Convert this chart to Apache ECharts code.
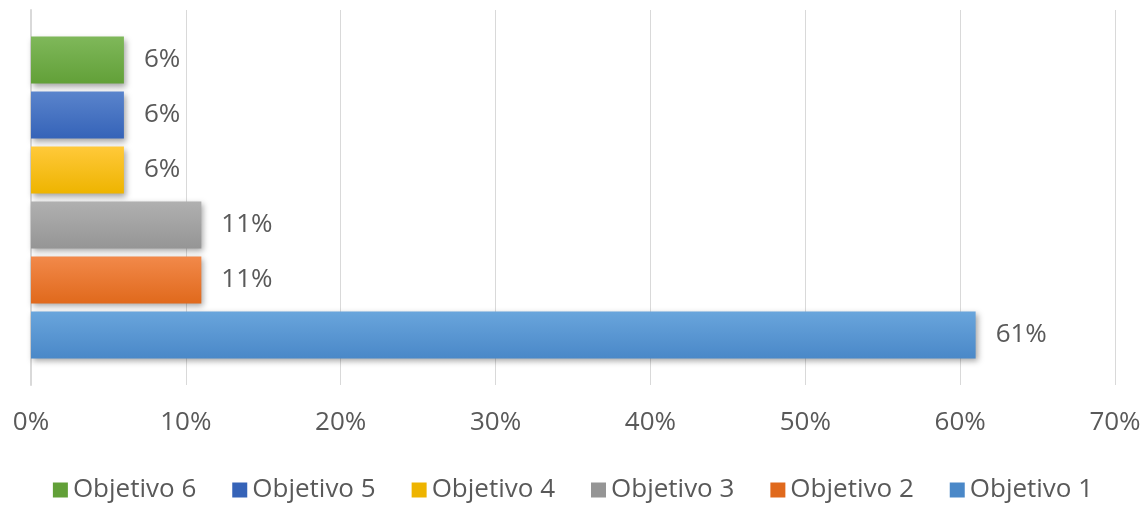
<!DOCTYPE html>
<html>
<head>
<meta charset="utf-8">
<script src="https://cdn.jsdelivr.net/npm/echarts@6/dist/echarts.min.js"></script>
<style>
  html, body { margin: 0; padding: 0; background: #fff; }
  #chart { width: 1146px; height: 506px; }
</style>
</head>
<body>
<div id="chart"></div>
<script>
// listed top bar first (ECharts puts the first series at the top of a horizontal band)
const seriesNames = ['Objetivo 6', 'Objetivo 5', 'Objetivo 4', 'Objetivo 3', 'Objetivo 2', 'Objetivo 1'];
const seriesValues = [6, 6, 6, 11, 11, 61];
const categories = [''];
// top / bottom colours of each bar's gradient
const colorsTop = ['#7fb85a', '#5a84cc', '#ffc93a', '#b0b0b0', '#f2894a', '#69a5dc'];
const colorsBottom = ['#62a038', '#3563b8', '#eeb400', '#959595', '#e0691c', '#4a88c8'];

const textColor = '#595959';
const fontFamily = '"Open Sans", "Noto Sans", sans-serif';
const fontSize = 26;

const myChart = echarts.init(document.getElementById('chart'));

const series = seriesNames.map(function (name, i) {
    return {
        name: name,
        type: 'bar',
        data: [seriesValues[i]],
        barWidth: 47,
        barGap: '17%',
        itemStyle: {
            color: new echarts.graphic.LinearGradient(0, 0, 0, 1, [
                { offset: 0, color: colorsTop[i] },
                { offset: 1, color: colorsBottom[i] }
            ]),
            shadowColor: 'rgba(0,0,0,0.35)',
            shadowBlur: 6,
            shadowOffsetX: 2,
            shadowOffsetY: 3
        },
        label: {
            show: true,
            position: 'right',
            distance: 20,
            formatter: '{c}%',
            color: textColor,
            fontSize: fontSize,
            fontFamily: fontFamily
        }
    };
});

const option = {
    backgroundColor: '#fff',
    animation: false,
    textStyle: { fontFamily: fontFamily },
    legend: {
        data: seriesNames.map(function (n, i) {
            return { name: n, itemStyle: { color: colorsBottom[i], shadowBlur: 0, shadowOffsetX: 0, shadowOffsetY: 0 } };
        }),
        left: 'center',
        top: 472,
        icon: 'rect',
        itemWidth: 15,
        itemHeight: 15,
        itemGap: 36,
        textStyle: { color: textColor, fontSize: fontSize, fontFamily: fontFamily }
    },
    grid: { left: 31, right: 31, top: 10, bottom: 121, containLabel: false },
    xAxis: {
        type: 'value',
        min: 0,
        max: 70,
        interval: 10,
        axisLabel: { formatter: '{value}%', color: textColor, fontSize: fontSize, margin: 25, fontFamily: fontFamily },
        axisLine: { show: false },
        axisTick: { show: false },
        splitLine: { show: true, lineStyle: { color: '#d9d9d9', width: 1 } }
    },
    yAxis: {
        type: 'category',
        data: categories,
        axisLine: { show: true, lineStyle: { color: '#d9d9d9', width: 2 } },
        axisTick: { show: false },
        axisLabel: { show: false }
    },
    series: series
};

myChart.setOption(option);
</script>
</body>
</html>
